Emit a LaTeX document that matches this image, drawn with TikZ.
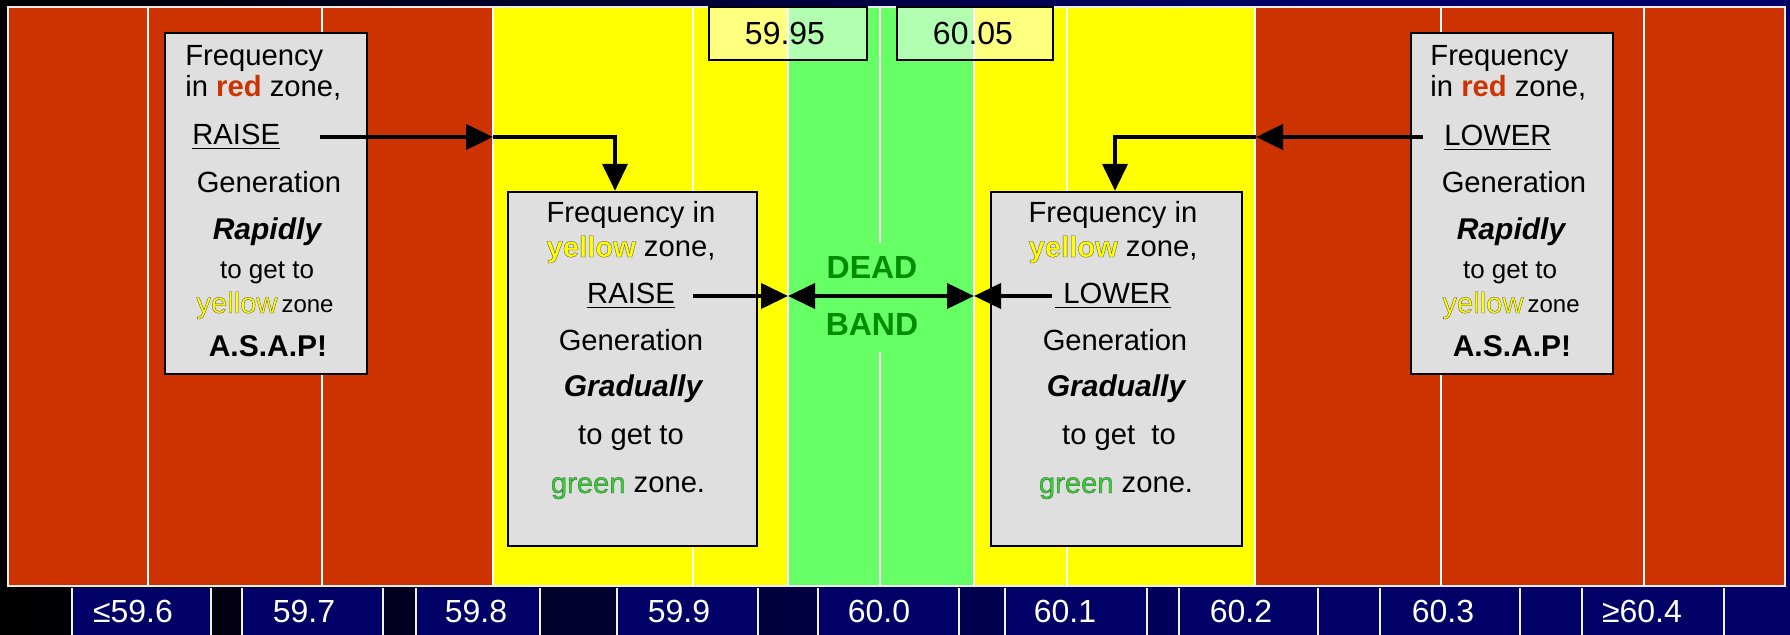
\documentclass[tikz,border=0pt]{standalone}
\usepackage{fontspec}
\setmainfont{Liberation Sans}
\usetikzlibrary{arrows.meta,fit}
\definecolor{zred}{HTML}{CC3300}
\definecolor{zyel}{HTML}{FFFF00}
\definecolor{zgrn}{HTML}{66FF66}
\definecolor{navy}{HTML}{000066}
\definecolor{boxg}{HTML}{DFDFDF}
\definecolor{dgrn}{HTML}{008C00}
\definecolor{tgrn}{HTML}{2ED62E}
\newcommand\shd[2]{\textcolor{#1}{\special{pdf:literal direct 2 Tr 0.15 w 0.3 0.3 0.3 RG}#2\special{pdf:literal direct 0 Tr}}}
\tikzset{
  t15/.style={inner sep=0pt, anchor=base, font=\fontsize{14.6}{17}\selectfont},
  t13/.style={t15, font=\fontsize{13}{16}\selectfont},
  tbi/.style={t15, font=\fontsize{15}{18}\selectfont\bfseries\itshape},
  tb/.style={t15, font=\fontsize{15}{18}\selectfont\bfseries},
  dbt/.style={inner sep=0pt, anchor=base, text=dgrn, font=\fontsize{16}{19}\selectfont\bfseries},
  lblw/.style={inner sep=0pt, anchor=base, text=white, font=\fontsize{16}{19}\selectfont},
  lblk/.style={inner sep=0pt, anchor=base, text=black, font=\fontsize{16}{19}\selectfont},
  gbox/.style={draw=black, line width=1.2pt, fill=boxg, inner sep=0pt},
  vbox/.style={draw=black, line width=1pt, fill=white, fill opacity=0.5, draw opacity=1, inner sep=0pt},
  wl/.style={white, line width=1pt},
  arr/.style={line width=2pt, -{Triangle[length=13.5pt,width=12.5pt]}},
  arrb/.style={line width=2pt, {Triangle[length=13.5pt,width=12.5pt]}-{Triangle[length=13.5pt,width=12.5pt]}},
}
\begin{document}
\begin{tikzpicture}[x=0.5pt,y=-0.5pt]
\useasboundingbox (0,0) rectangle (1790,635);
% background
\shade[left color=black, right color=navy] (0,0) rectangle (1300,635);
\fill[navy] (1299,0) rectangle (1790,635);
\fill[black] (0,0) rectangle (8,635);
% zones
\fill[zred] (8,7) rectangle (493,586);
\fill[zyel] (493,7) rectangle (788,586);
\fill[zgrn] (788,7) rectangle (974,586);
\fill[zyel] (974,7) rectangle (1255,586);
\fill[zred] (1255,7) rectangle (1785,586);
\foreach \x in {148,322,493,693,788,974,1067,1255,1441,1644}
  \draw[wl] (\x,7) -- (\x,586);
\draw[wl] (880,7) -- (880,243);
\draw[wl] (880,352) -- (880,586);
\draw[line width=1pt, color=white!85!gray] (8,7) rectangle (1785,586);
% bottom scale
\foreach \a/\b in {72/211,242/383,416/540,617/758,818/959,1005/1147,1179/1318,1380/1520,1582/1724}{
  \fill[navy] (\a,588) rectangle (\b,635);
  \draw[white!90!gray, line width=1pt] (\a,588) -- (\a,635) (\b,588) -- (\b,635);
}
\node[lblw] (s1) at (133,623) {≤59.6};
\node[lblw] (s2) at (304,623) {59.7};
\node[lblw] (s3) at (476,623) {59.8};
\node[lblw] (s4) at (679,623) {59.9};
\node[lblw] (s5) at (879,623) {60.0};
\node[lblw] (s6) at (1065,623) {60.1};
\node[lblw] (s7) at (1241,623) {60.2};
\node[lblw] (s8) at (1443,623) {60.3};
\node[lblw] (s9) at (1642,623) {≥60.4};
% top value boxes
\node[vbox, fit={(709,7) (867,60)}] (v1) {};
\node[vbox, fit={(897,7) (1053,60)}] (v2) {};
\node[lblk] (v1t) at (785,45) {59.95};
\node[lblk] (v2t) at (973,45) {60.05};
% boxes
\node[gbox, fit={(165,33) (367,374)}] (bA) {};
\node[gbox, fit={(1411,33) (1613,374)}] (bB) {};
\node[gbox, fit={(508,192) (757,546)}] (bC) {};
\node[gbox, fit={(991,192) (1242,546)}] (bD) {};
% box A text
\node[t15, anchor=base west] (a1) at (185,66) {Frequency};
\node[t15, anchor=base west] (a2) at (185,97) {in \textcolor{zred}{\bfseries red} zone,};
\node[t15, anchor=base west] (a3) at (192,145) {\underline{RAISE}};
\node[t15] (a4) at (269,193) {Generation};
\node[tbi] (a5) at (267,240) {Rapidly};
\node[t13] (a6) at (267,279) {to get to};
\node[t15] (a7) at (265,313) {\shd{zyel}{yellow}\kern2pt{\fontsize{12}{14}\selectfont zone}};
\node[tb] (a8) at (268,357) {A.S.A.P!};
% box B text
\node[t15, anchor=base west] (b1) at (1430,66) {Frequency};
\node[t15, anchor=base west] (b2) at (1430,97) {in \textcolor{zred}{\bfseries red} zone,};
\node[t15, anchor=base west] (b3) at (1444,146) {\underline{LOWER}};
\node[t15] (b4) at (1514,193) {Generation};
\node[tbi] (b5) at (1511,240) {Rapidly};
\node[t13] (b6) at (1510,279) {to get to};
\node[t15] (b7) at (1511,313) {\shd{zyel}{yellow}\kern2pt{\fontsize{12}{14}\selectfont zone}};
\node[tb] (b8) at (1512,357) {A.S.A.P!};
% box C text
\node[t15] (c1) at (631,223) {Frequency in};
\node[t15] (c2) at (631,257) {\shd{zyel}{\bfseries yellow} zone,};
\node[t15] (c3) at (631,304) {\underline{RAISE}};
\node[t15] (c4) at (631,351) {Generation};
\node[tbi] (c5) at (633,397) {Gradually};
\node[t15] (c6) at (631,445) {to get to};
\node[t15] (c7) at (628,493) {\shd{tgrn}{green} zone.};
% box D text
\node[t15] (d1) at (1113,223) {Frequency in};
\node[t15] (d2) at (1113,257) {\shd{zyel}{\bfseries yellow} zone,};
\node[t15] (d3) at (1113,304) {\underline{\kern4pt LOWER}};
\node[t15] (d4) at (1115,351) {Generation};
\node[tbi] (d5) at (1116,397) {Gradually};
\node[t15] (d6) at (1119,445) {to get\ \ to};
\node[t15] (d7) at (1116,493) {\shd{tgrn}{green} zone.};
% dead band
\node[dbt] (dead) at (872,279) {DEAD};
\node[dbt] (band) at (872,336) {BAND};
% arrows
\coordinate (sA) at (320,137);
\coordinate (tA) at (493,137);
\coordinate (kA) at (615,137);
\draw[arr] (sA) -- (tA);
\draw[arr] (tA) -- (kA) -- (kA |- bC.north);
\coordinate (sB) at (1423,137);
\coordinate (tB) at (1256,137);
\coordinate (kB) at (1115,137);
\draw[arr] (sB) -- (tB);
\draw[arr] (tB) -- (kB) -- (kB |- bD.north);
\coordinate (sC) at (693,296);
\coordinate (dbL) at (788,296);
\coordinate (dbR) at (974,296);
\coordinate (sD) at (1052,296);
\draw[arr] (sC) -- (dbL);
\draw[arrb] (dbL) -- (dbR);
\draw[arr] (sD) -- (dbR);
\end{tikzpicture}
\end{document}
